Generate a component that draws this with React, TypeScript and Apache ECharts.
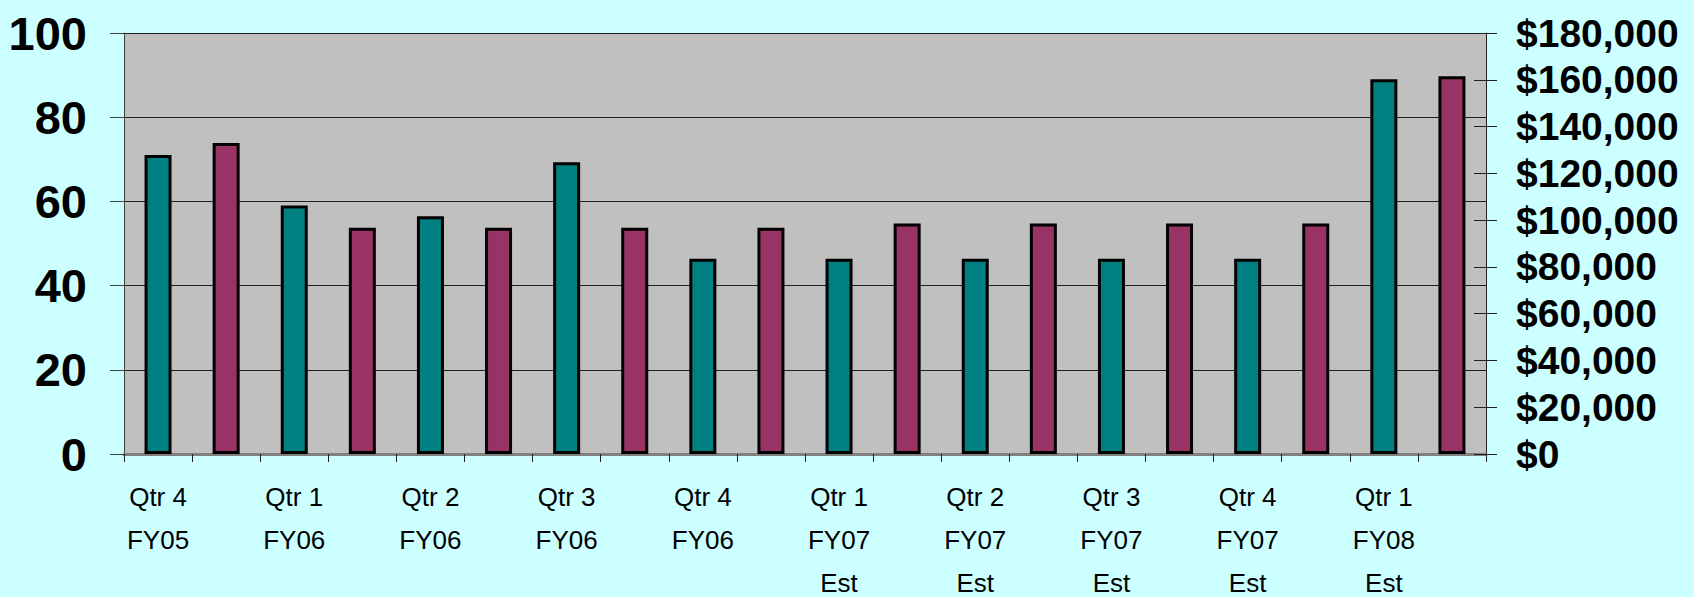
import React, { useEffect, useRef } from "react";
import * as echarts from "echarts";

// Quarter labels (one per teal/maroon pair)
const quarters = [
  "Qtr 4\nFY05",
  "Qtr 1\nFY06",
  "Qtr 2\nFY06",
  "Qtr 3\nFY06",
  "Qtr 4\nFY06",
  "Qtr 1\nFY07\nEst",
  "Qtr 2\nFY07\nEst",
  "Qtr 3\nFY07\nEst",
  "Qtr 4\nFY07\nEst",
  "Qtr 1\nFY08\nEst",
];
// Teal bars (left axis)
const countValues = [71, 59, 56.5, 69.3, 46.4, 46.4, 46.4, 46.4, 46.4, 89];
// Maroon bars (right axis)
const dollarValues = [133000, 96700, 96700, 96700, 96700, 98600, 98600, 98600, 98600, 161500];

const leftMax = 100;
const leftStep = 20;
const rightMax = 180000;
const rightStep = 20000;

const TEAL = "#008080";
const MAROON = "#993366";

export default function App() {
  const ref = useRef<HTMLDivElement>(null);

  useEffect(() => {
    document.body.style.margin = "0";
    if (!ref.current) return;
    const chart = echarts.init(ref.current, undefined, { renderer: "svg" });

    const categories: string[] = [];
    const tealData: (number | null)[] = [];
    const maroonData: (number | null)[] = [];
    quarters.forEach((q, i) => {
      categories.push(q);
      categories.push("");
      tealData.push(countValues[i], null);
      maroonData.push(null, dollarValues[i]);
    });

    const font = "'Liberation Sans', Arial, sans-serif";

    chart.setOption({
      animation: false,
      backgroundColor: "#CCFFFF",
      grid: {
        left: 124,
        right: 208,
        top: 33,
        bottom: 143,
        show: true,
        backgroundColor: "#C0C0C0",
        borderWidth: 0,
        containLabel: false,
        outerBoundsMode: "none",
      },
      xAxis: [
        {
          type: "category",
          data: categories,
          position: "bottom",
          axisLine: { show: true, lineStyle: { color: "#404040", width: 1 } },
          axisTick: {
            show: true,
            length: 8,
            alignWithLabel: false,
            interval: 0,
            lineStyle: { color: "#202020", width: 1 },
          },
          axisLabel: {
            interval: 0,
            margin: 21,
            fontSize: 26,
            lineHeight: 43,
            color: "#000",
            fontFamily: font,
          },
          splitLine: { show: false },
        },
        {
          type: "category",
          data: categories,
          position: "top",
          axisLine: { show: true, lineStyle: { color: "#808080", width: 3 } },
          axisTick: { show: false },
          axisLabel: { show: false },
        },
      ],
      yAxis: [
        {
          type: "value",
          position: "left",
          min: 0,
          max: leftMax,
          interval: leftStep,
          axisLine: { show: true, lineStyle: { color: "#404040", width: 1 } },
          axisTick: { show: true, length: 14, lineStyle: { color: "#404040", width: 1 } },
          axisLabel: {
            margin: 37,
            fontSize: 47,
            fontWeight: "bold",
            color: "#000",
            fontFamily: font,
          },
          splitLine: { show: true, lineStyle: { color: "#202020", width: 1 } },
        },
        {
          type: "value",
          position: "right",
          min: 0,
          max: rightMax,
          interval: rightStep,
          axisLine: { show: true, lineStyle: { color: "#202020", width: 1 } },
          axisTick: { show: true, length: 11, lineStyle: { color: "#202020", width: 1 } },
          axisLabel: {
            margin: 30,
            fontSize: 39,
            fontWeight: "bold",
            color: "#000",
            fontFamily: font,
            formatter: (v: number) => "$" + v.toLocaleString("en-US"),
          },
          splitLine: { show: false },
        },
        {
          type: "value",
          position: "right",
          min: 0,
          max: rightMax,
          interval: rightStep,
          axisLine: { show: false },
          axisTick: { show: true, inside: true, length: 12, lineStyle: { color: "#202020", width: 1 } },
          axisLabel: { show: false },
          splitLine: { show: false },
        },
      ],
      series: [
        {
          type: "bar",
          name: "Count",
          data: tealData,
          yAxisIndex: 0,
          barWidth: 27,
          barGap: "-100%",
          itemStyle: { color: TEAL, borderColor: "#000", borderWidth: 3 },
        },
        {
          type: "bar",
          name: "Dollars",
          data: maroonData,
          yAxisIndex: 1,
          barWidth: 27,
          barGap: "-100%",
          itemStyle: { color: MAROON, borderColor: "#000", borderWidth: 3 },
        },
      ],
    });

    return () => chart.dispose();
  }, []);

  return <div ref={ref} style={{ width: 1694, height: 597 }} />;
}
